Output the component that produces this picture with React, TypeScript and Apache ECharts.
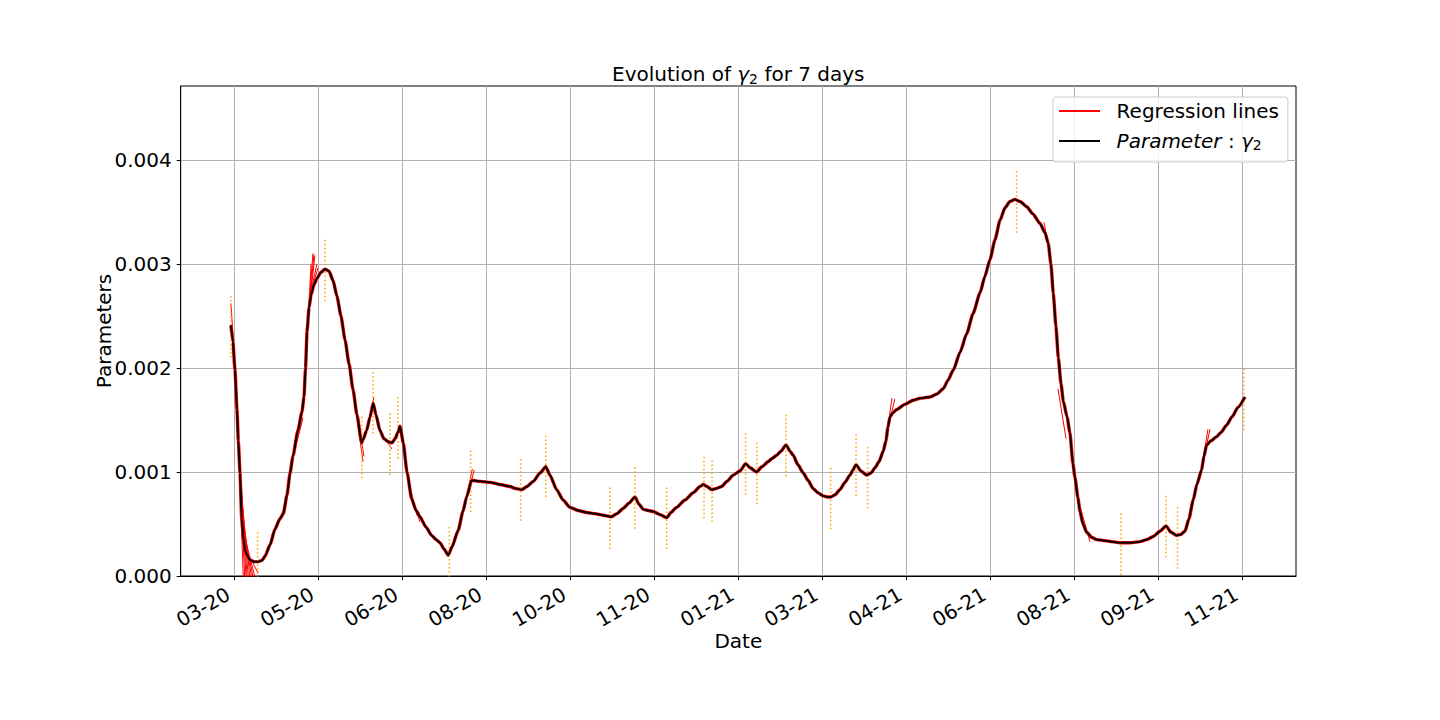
import React, { useEffect, useRef } from 'react';
import * as echarts from 'echarts';

// ---------- data ----------
// x axis: days, tick every 50 days, labelled month-year
const tickDays = [0, 50, 100, 150, 200, 250, 300, 350, 400, 450, 500, 550, 600];
const tickLabels = ['03-20', '05-20', '06-20', '08-20', '10-20', '11-20', '01-21', '03-21', '04-21', '06-21', '08-21', '09-21', '11-21'];
const yTicks = [0, 0.001, 0.002, 0.003, 0.004];

// Parameter gamma_2 (values in units of 1e-3)
const gammaDays = [
  -2.0, -0.8, 0.4, 1.6, 2.4, 3.4, 4.4, 5.5, 6.4, 7.6,
  9.3, 11.7, 14.3, 16.5, 18.3, 21.3, 24.2, 27.2, 29.2, 31.4,
  33.2, 34.9, 37.9, 40.3, 41.5, 42.4, 43.3, 44.5, 45.7, 47.4,
  49.2, 51.6, 54.0, 56.4, 58.8, 61.1, 63.5, 65.9, 68.3, 70.7,
  73.0, 75.8, 76.6, 78.8, 80.8, 82.7, 84.3, 86.7, 89.1, 91.7,
  93.9, 95.7, 97.4, 98.6, 100.6, 102.8, 105.6, 108.2, 110.5, 114.1,
  117.5, 120.1, 122.4, 124.8, 127.4, 129.6, 133.3, 136.1, 138.3, 141.3,
  146.3, 152.2, 158.2, 164.1, 167.7, 171.1, 174.2, 178.0, 182.0, 185.4,
  187.9, 191.9, 195.7, 199.8, 204.6, 209.8, 214.7, 217.7, 220.7, 224.6,
  227.8, 231.5, 234.9, 238.5, 240.9, 243.5, 246.3, 249.4, 253.4, 257.4,
  259.9, 263.3, 268.3, 273.2, 277.2, 279.2, 281.4, 284.2, 286.7, 290.1,
  293.3, 297.0, 301.0, 304.4, 307.0, 310.9, 314.1, 317.9, 320.1, 322.9,
  325.4, 328.4, 330.8, 332.7, 335.5, 338.7, 341.5, 344.6, 347.4, 350.6,
  352.8, 355.0, 357.6, 360.5, 363.5, 366.5, 368.3, 370.1, 373.0, 376.4,
  379.0, 381.4, 383.8, 386.3, 387.9, 389.1, 390.3, 392.1, 394.3, 399.2,
  404.2, 408.8, 414.1, 418.3, 422.0, 424.8, 428.0, 432.0, 436.0, 439.7,
  443.9, 446.8, 449.8, 452.8, 455.8, 458.8, 461.7, 464.7, 467.7, 471.7,
  475.4, 479.6, 482.6, 484.5, 486.1, 487.5, 489.1, 490.5, 492.1, 493.5,
  495.7, 497.4, 499.2, 500.4, 502.2, 503.4, 505.2, 507.4, 510.5, 513.3,
  518.3, 522.4, 527.2, 533.2, 539.1, 543.3, 547.0, 551.0, 554.6, 557.6,
  561.0, 563.5, 565.9, 568.3, 570.8, 573.0, 575.8, 577.2, 578.8, 581.4,
  584.8, 587.3, 590.7, 593.9, 597.4, 601.6,
];
const gammaValuesE3 = [
  2.41, 2.25, 1.98, 1.60, 1.30, 0.99, 0.55, 0.35, 0.25, 0.20,
  0.154, 0.138, 0.138, 0.15, 0.19, 0.30, 0.45, 0.55, 0.60, 0.78,
  0.99, 1.15, 1.40, 1.58, 1.72, 2.00, 2.35, 2.58, 2.70, 2.80,
  2.86, 2.92, 2.95, 2.93, 2.84, 2.69, 2.50, 2.27, 2.04, 1.79,
  1.55, 1.28, 1.31, 1.40, 1.53, 1.66, 1.55, 1.40, 1.32, 1.29,
  1.28, 1.32, 1.38, 1.44, 1.28, 1.00, 0.74, 0.63, 0.57, 0.47,
  0.39, 0.35, 0.32, 0.26, 0.20, 0.28, 0.44, 0.62, 0.76, 0.92,
  0.91, 0.90, 0.88, 0.86, 0.84, 0.83, 0.86, 0.91, 0.99, 1.05,
  0.97, 0.83, 0.73, 0.66, 0.63, 0.61, 0.60, 0.59, 0.58, 0.57,
  0.60, 0.65, 0.70, 0.76, 0.69, 0.64, 0.63, 0.62, 0.59, 0.56,
  0.61, 0.66, 0.73, 0.80, 0.86, 0.88, 0.86, 0.83, 0.84, 0.86,
  0.91, 0.97, 1.01, 1.08, 1.04, 1.00, 1.05, 1.10, 1.13, 1.16,
  1.20, 1.26, 1.20, 1.16, 1.07, 0.99, 0.92, 0.84, 0.80, 0.77,
  0.76, 0.76, 0.78, 0.83, 0.90, 0.97, 1.02, 1.07, 1.01, 0.97,
  0.99, 1.04, 1.10, 1.20, 1.30, 1.43, 1.53, 1.57, 1.60, 1.65,
  1.69, 1.71, 1.72, 1.75, 1.80, 1.88, 1.98, 2.15, 2.33, 2.52,
  2.72, 2.88, 3.04, 3.23, 3.42, 3.54, 3.60, 3.62, 3.60, 3.55,
  3.48, 3.39, 3.30, 3.20, 3.00, 2.72, 2.40, 2.10, 1.85, 1.68,
  1.53, 1.38, 1.08, 0.95, 0.75, 0.62, 0.50, 0.42, 0.37, 0.35,
  0.34, 0.33, 0.32, 0.32, 0.33, 0.35, 0.38, 0.43, 0.48, 0.42,
  0.39, 0.40, 0.43, 0.55, 0.73, 0.88, 1.02, 1.15, 1.26, 1.30,
  1.34, 1.38, 1.45, 1.53, 1.62, 1.72,
];

// Orange dotted markers: day and centre value (1e-3), half length (1e-3)
const markerDays = [-2.0, 13.9, 54.0, 76.0, 82.6, 92.7, 97.4, 128.0, 140.7, 170.5, 185.4, 223.6, 238.5, 257.4, 279.6, 284.4, 304.4, 311.1, 328.4, 355.0, 370.1, 377.0, 465.7, 527.8, 554.6, 561.5, 601.0];
const markerCentersE3 = [2.40, 0.13, 2.94, 1.24, 1.67, 1.27, 1.43, 0.18, 0.915, 0.83, 1.06, 0.56, 0.755, 0.56, 0.855, 0.82, 1.08, 0.99, 1.26, 0.75, 1.07, 0.95, 3.60, 0.31, 0.48, 0.37, 1.70];
const markerHalfE3 = 0.3;

// Visible regression line segments: [startDay, startE3, endDay, endE3]
const regressionSegments = [
  [-2.0, 2.62, 1.9, 1.65],
  [1.0, 1.90, 5.8, -0.20],
  [1.6, 1.65, 6.7, -0.20],
  [2.2, 1.40, 7.6, -0.20],
  [2.8, 1.20, 8.4, -0.20],
  [3.4, 1.00, 9.3, -0.20],
  [4.0, 0.80, 10.2, -0.15],
  [4.6, 0.60, 11.1, -0.10],
  [5.2, 0.48, 12.0, -0.08],
  [5.8, 0.40, 12.9, -0.05],
  [7.0, 0.25, 14.1, 0.03],
  [24.8, 0.44, 29.0, 0.63],
  [36.7, 1.25, 40.9, 1.52],
  [42.1, 1.90, 45.7, 3.00],
  [42.7, 2.20, 46.8, 3.10],
  [43.3, 2.35, 47.4, 3.09],
  [43.9, 2.50, 48.0, 3.08],
  [45.1, 2.70, 49.2, 3.00],
  [46.3, 2.77, 49.8, 2.96],
  [72.4, 1.60, 76.6, 1.10],
  [73.6, 1.50, 77.2, 1.15],
  [80.2, 1.50, 83.2, 1.72],
  [89.1, 1.33, 93.9, 1.22],
  [104.0, 0.90, 108.8, 0.58],
  [105.2, 0.78, 110.5, 0.52],
  [137.6, 0.70, 141.7, 1.03],
  [138.8, 0.78, 142.9, 1.02],
  [387.9, 1.30, 391.5, 1.71],
  [389.1, 1.42, 393.2, 1.70],
  [482.0, 3.40, 485.5, 3.10],
  [490.3, 1.80, 495.1, 1.32],
  [501.6, 0.78, 509.3, 0.33],
  [575.4, 1.00, 579.6, 1.41],
  [576.6, 1.10, 580.8, 1.41],
];

// ---------- chart ----------
const FONT = "'DejaVu Sans', sans-serif";
const FS = 20;

export default function App() {
  const ref = useRef<HTMLDivElement>(null);

  useEffect(() => {
    if (!ref.current) return;
    const chart = echarts.init(ref.current, undefined, { renderer: 'svg' });

    const gammaData = gammaDays.map((d, i) => [d, gammaValuesE3[i] / 1000]);

    const series: any[] = [];
    // red halo of the many regression lines under the curve
    series.push({
      type: 'line', name: 'Regression lines', data: gammaData,
      symbol: 'none', silent: true, z: 2, smooth: 0.2, smoothMonotone: 'x',
      lineStyle: { color: '#ff0000', width: 3.4 }, itemStyle: { color: '#ff0000' },
    });
    regressionSegments.forEach((s) => {
      series.push({
        type: 'line', name: 'Regression lines',
        data: [[s[0], s[1] / 1000], [s[2], s[3] / 1000]],
        symbol: 'none', silent: true, z: 2,
        lineStyle: { color: '#ff0000', width: 1 }, itemStyle: { color: '#ff0000' },
      });
    });
    markerDays.forEach((d, i) => {
      series.push({
        type: 'line', name: 'marker' + i,
        data: [[d, (markerCentersE3[i] - markerHalfE3) / 1000], [d, (markerCentersE3[i] + markerHalfE3) / 1000]],
        symbol: 'none', silent: true, z: 3,
        lineStyle: { color: '#ffa500', width: 1.5, type: [1.5, 2.5] },
      });
    });
    series.push({
      type: 'line', name: 'Parameter', data: gammaData,
      symbol: 'none', silent: true, z: 4, smooth: 0.2, smoothMonotone: 'x',
      lineStyle: { color: '#000000', width: 2 }, itemStyle: { color: '#000000' },
    });

    const titleRich = {
      n: { fontFamily: FONT, fontSize: FS, color: '#000', lineHeight: 24 },
      g: { fontFamily: FONT, fontSize: FS, color: '#000', fontStyle: 'italic', lineHeight: 24 },
      s: { fontFamily: FONT, fontSize: 14, color: '#000', lineHeight: 12, verticalAlign: 'bottom' },
    };

    chart.setOption({
      animation: false,
      backgroundColor: '#ffffff',
      title: {
        text: '{n|Evolution of }{g|γ}{s|2}{n| for 7 days}',
        left: 738.3, top: 62, textAlign: 'center', padding: 0,
        textStyle: { fontFamily: FONT, fontSize: FS, fontWeight: 'normal', color: '#000', rich: titleRich },
      },
      legend: {
        orient: 'vertical', left: 1053, top: 97,
        padding: [3, 9, 10, 6],
        itemWidth: 41, itemHeight: 2, itemGap: 8,
        icon: 'rect',
        backgroundColor: 'rgba(255,255,255,0.8)',
        borderColor: '#cccccc', borderWidth: 1, borderRadius: 3,
        data: ['Regression lines', 'Parameter'],
        formatter: (name: string) => (name === 'Parameter' ? '{i|Parameter}{n| : }{i|γ}{s|2}' : name),
        textStyle: {
          fontFamily: FONT, fontSize: FS, color: '#000', lineHeight: 22, padding: [0, 0, 0, 11.6],
          rich: {
            i: { fontFamily: FONT, fontSize: FS, color: '#000', fontStyle: 'italic', lineHeight: 22 },
            n: { fontFamily: FONT, fontSize: FS, color: '#000', lineHeight: 22 },
            s: { fontFamily: FONT, fontSize: 14, color: '#000', lineHeight: 10, verticalAlign: 'bottom' },
          },
        },
      },
      grid: {
        left: 180.7, right: 144, top: 86, bottom: 144,
        show: true, borderColor: '#000', borderWidth: 1, backgroundColor: 'transparent',
      },
      xAxis: {
        type: 'value', min: -31.9, max: 632,
        name: 'Date', nameLocation: 'middle', nameGap: 55, nameMoveOverlap: false,
        nameTextStyle: { fontFamily: FONT, fontSize: FS, color: '#000' },
        axisLine: { show: true, onZero: false, lineStyle: { color: '#000', width: 1 } },
        axisTick: { show: true, length: 4, lineStyle: { color: '#000', width: 1 }, customValues: tickDays },
        axisLabel: {
          customValues: tickDays, rotate: 30, margin: 13, padding: [0, 7, 0, 0],
          fontFamily: FONT, fontSize: FS, color: '#000',
          formatter: (v: number) => {
            const i = tickDays.findIndex((d) => Math.abs(d - v) < 1e-6);
            return i >= 0 ? tickLabels[i] : '';
          },
        },
        splitLine: { show: true, lineStyle: { color: '#b0b0b0', width: 1 } },
      },
      yAxis: {
        type: 'value', min: 0, max: 0.00471,
        name: 'Parameters', nameLocation: 'middle', nameGap: 67, nameMoveOverlap: false,
        nameTextStyle: { fontFamily: FONT, fontSize: FS, color: '#000' },
        axisLine: { show: true, onZero: false, lineStyle: { color: '#000', width: 1 } },
        axisTick: { show: true, length: 4, lineStyle: { color: '#000', width: 1 }, customValues: yTicks },
        axisLabel: {
          customValues: yTicks, margin: 9,
          fontFamily: FONT, fontSize: FS, color: '#000',
          formatter: (v: number) => v.toFixed(3),
        },
        splitLine: { show: true, lineStyle: { color: '#b0b0b0', width: 1 } },
      },
      series,
    });

    return () => chart.dispose();
  }, []);

  return (
    <div
      ref={ref}
      style={{ position: 'fixed', left: 0, top: 0, width: 1440, height: 720, background: '#fff' }}
    />
  );
}
